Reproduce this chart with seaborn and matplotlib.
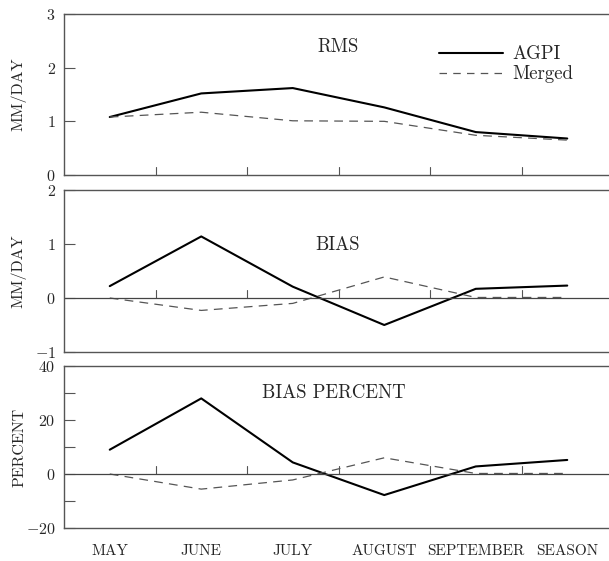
import matplotlib
matplotlib.use("Agg")
import matplotlib.pyplot as plt
import seaborn as sns
import pandas as pd
from matplotlib.lines import Line2D

months = ["MAY", "JUNE", "JULY", "AUGUST", "SEPTEMBER", "SEASON"]

rms_agpi = [1.08, 1.52, 1.62, 1.26, 0.80, 0.68]
rms_merged = [1.08, 1.17, 1.01, 1.00, 0.74, 0.65]

bias_agpi = [0.22, 1.14, 0.21, -0.50, 0.17, 0.23]
bias_merged = [0.00, -0.23, -0.10, 0.39, 0.01, 0.01]

pct_agpi = [9.0, 28.0, 4.3, -7.8, 2.8, 5.2]
pct_merged = [0.0, -5.6, -2.2, 6.0, 0.2, 0.2]

sns.set_theme(style="white")
plt.rcParams["font.family"] = ["cmr10", "DejaVu Serif"]
plt.rcParams["axes.formatter.use_mathtext"] = True
plt.rcParams["mathtext.fontset"] = "cm"

fig = plt.figure(figsize=(6.09, 5.61), dpi=100)

W = 609.0
H = 561.0
left = 64 / W
width = (613 - 64) / W


def make_ax(top_px, bot_px):
    return fig.add_axes([left, 1 - bot_px / H, width, (bot_px - top_px) / H])


panels = [
    dict(ax=make_ax(14, 175), agpi=rms_agpi, merged=rms_merged, ylim=(0, 3),
         major=[0, 1, 2, 3], minor=[], ylabel="MM/DAY", title="RMS",
         title_xy=(338, 47), title_ha="center", zero=False),
    dict(ax=make_ax(190, 352), agpi=bias_agpi, merged=bias_merged, ylim=(-1, 2),
         major=[-1, 0, 1, 2], minor=[], ylabel="MM/DAY", title="BIAS",
         title_xy=(338, 245), title_ha="center", zero=True),
    dict(ax=make_ax(366, 528), agpi=pct_agpi, merged=pct_merged, ylim=(-20, 40),
         major=[-20, 0, 20, 40], minor=[-10, 10, 30], ylabel="PERCENT",
         title="BIAS PERCENT", title_xy=(262, 393), title_ha="left", zero=True),
]

xpos = list(range(len(months)))
spine_col = "#555555"

for i, p in enumerate(panels):
    ax = p["ax"]
    df = pd.DataFrame({"x": xpos * 2,
                       "y": p["agpi"] + p["merged"],
                       "series": ["AGPI"] * 6 + ["Merged"] * 6})
    sns.lineplot(data=df[df.series == "AGPI"], x="x", y="y", ax=ax,
                 color="black", linewidth=1.5, legend=False)
    sns.lineplot(data=df[df.series == "Merged"], x="x", y="y", ax=ax,
                 color="#555555", linewidth=0.9, dashes=False, legend=False)
    ax.lines[-1].set_dashes((7, 5))

    ax.set_xlim(-0.5, 5.5)
    ax.set_ylim(*p["ylim"])
    ax.set_xlabel("")
    ax.set_ylabel(p["ylabel"], fontsize=11.5, labelpad=8)

    ax.set_yticks(p["major"])
    ax.set_yticks(p["minor"], minor=True)
    ax.tick_params(axis="y", which="both", direction="in", length=8,
                   width=0.8, color=spine_col, left=True, labelsize=11.5, pad=6)

    # category separators: short upward ticks on the baseline
    base = 0 if p["zero"] else p["ylim"][0]
    y0, y1 = p["ylim"]
    tick_h = 8 * (y1 - y0) / (ax.get_position().height * H)
    for xb in [0.5, 1.5, 2.5, 3.5, 4.5]:
        ax.plot([xb, xb], [base, base + tick_h], color=spine_col, lw=0.8)
    if p["zero"]:
        ax.axhline(0, color="#444444", lw=0.9)

    ax.set_xticks(xpos)
    if i == 2:
        ax.set_xticklabels(months, fontsize=11)
        ax.tick_params(axis="x", length=0, pad=12)
    else:
        ax.set_xticklabels([])
        ax.tick_params(axis="x", length=0)

    for side in ["top", "bottom", "left"]:
        ax.spines[side].set_visible(True)
        ax.spines[side].set_color(spine_col)
        ax.spines[side].set_linewidth(1.0)
    ax.spines["right"].set_visible(False)

    tx, ty = p["title_xy"]
    fig.text(tx / W, 1 - ty / H, p["title"], fontsize=13.5,
             ha=p["title_ha"], va="center")

    ax.yaxis.set_label_coords(-0.068, 0.5)

handles = [Line2D([], [], color="black", lw=1.5),
           Line2D([], [], color="#555555", lw=0.9, dashes=(6, 5))]
panels[0]["ax"].legend(handles, ["AGPI", "Merged"], loc="upper left",
                       bbox_to_anchor=(430 / W, 1 - 36 / H),
                       bbox_transform=fig.transFigure, frameon=False,
                       fontsize=13.5, handlelength=3.4, handletextpad=0.5,
                       labelspacing=0.1, borderpad=0)

fig.savefig("out.png", dpi=100)
